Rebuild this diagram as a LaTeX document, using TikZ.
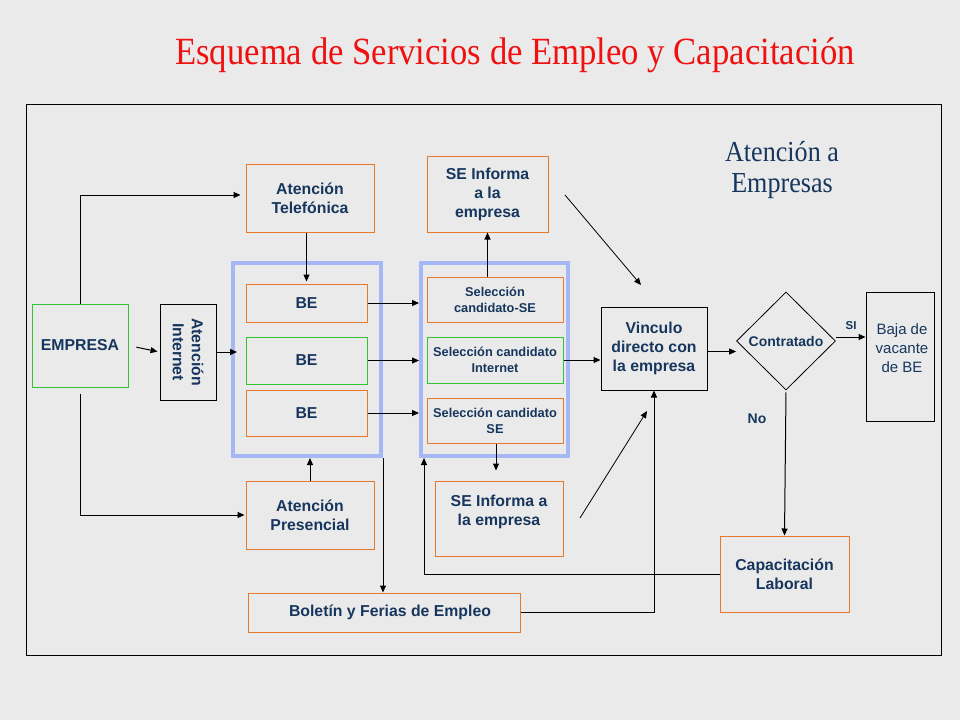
\documentclass[tikz,border=0pt]{standalone}
\usepackage{fontspec}
\setmainfont{Liberation Serif}
\setsansfont{Liberation Sans}
\newfontfamily\narrowserif[FakeStretch=0.9]{Liberation Serif}
\usetikzlibrary{arrows.meta,shapes.geometric}
\definecolor{navy}{HTML}{17365D}
\definecolor{boxorange}{HTML}{E8782A}
\definecolor{boxgreen}{HTML}{33C433}
\definecolor{frameblue}{HTML}{A5B7F6}
\definecolor{slidebg}{HTML}{EAEAEA}
\definecolor{titlered}{HTML}{F01010}

\begin{document}
\begin{tikzpicture}[x=1pt,y=-1pt,line width=1pt,>={Triangle[length=7pt,width=6pt]}]
\tikzstyle{every node}+=[inner sep=0pt,text=navy,align=center]
\tikzstyle{box}=[draw=boxorange,font=\sffamily\bfseries\fontsize{15.8}{19}\selectfont]
\tikzstyle{gbox}=[box,draw=boxgreen]
\tikzstyle{kbox}=[box,draw=black]
\tikzstyle{selbox}=[box,font=\sffamily\bfseries\fontsize{12.8}{16}\selectfont]
\tikzstyle{frame}=[draw=frameblue,line width=4pt]
\tikzstyle{lbl}=[font=\sffamily\bfseries\fontsize{14}{17}\selectfont]
\fill[slidebg] (0,0) rectangle (960,720);
\useasboundingbox (0,0) rectangle (960,720);
\draw (26,104) rectangle (941,655);
% titles
\node (title) at (515,55) [font=\narrowserif\fontsize{38.5}{42}\selectfont,text=titlered] {Esquema de Servicios de Empleo y Capacitación};
\node (empresas) at (782,170) [font=\narrowserif\fontsize{29}{31}\selectfont] {Atención a\\Empresas};
% containers
\node (fr1) at (307,359.5) [frame,minimum width=148,minimum height=193] {};
\node (fr2) at (494.5,359.5) [frame,minimum width=147,minimum height=193] {};
% left column
\node (emp) at (80,345.5) [gbox,minimum width=96,minimum height=83] {EMPRESA};
\node (inet) at (188,352) [kbox,rotate=-90,minimum width=96,minimum height=56] {Atención\\Internet};
\node (tel) at (310,198) [box,minimum width=128,minimum height=68] {Atención\\Telefónica};
\node (pres) at (310,515) [box,minimum width=128,minimum height=68] {Atención\\Presencial};
\node (be1) at (306.5,303) [box,minimum width=121,minimum height=38] {BE};
\node (be2) at (306.5,360.5) [gbox,minimum width=121,minimum height=47] {BE};
\node (be3) at (306.5,413) [box,minimum width=121,minimum height=46] {BE};
\node (bol) at (384,612.5) [box,minimum width=272,minimum height=39] {\hspace*{12pt}Boletín y Ferias de Empleo};
% middle column
\node (seTop) at (487.5,194) [box,minimum width=121,minimum height=76] {SE Informa\\a la\\empresa};
\node (selA) at (495,299.5) [selbox,minimum width=136,minimum height=45] {Selección\\candidato-SE};
\node (selB) at (495,360) [selbox,draw=boxgreen,minimum width=136,minimum height=46] {Selección candidato\\Internet};
\node (selC) at (495,420.5) [selbox,minimum width=136,minimum height=45] {Selección candidato\\SE};
\node (seBot) at (499,518.5) [box,minimum width=128,minimum height=75] {};
\node (seBotTxt) at (499,512) [box,draw=none] {SE Informa a\\la empresa};
% right part
\node (vin) at (654,348.5) [kbox,minimum width=106,minimum height=83] {Vinculo\\directo con\\la empresa};
\node (con) at (786,341) [diamond,draw=black,line width=0.8pt,minimum width=99,minimum height=98,font=\sffamily\bfseries\fontsize{14}{17}\selectfont] {\raisebox{-3pt}{Contratado}};
\node (baja) at (900,356.5) [draw=black,minimum width=68,minimum height=129] {};
\node (bajaTxt) at (902,348) [font=\sffamily\fontsize{15}{19}\selectfont] {Baja de\\vacante\\de BE};
\node (si) at (851,326) [font=\sffamily\bfseries\fontsize{11.5}{14}\selectfont] {SI};
\node (no) at (757,419) [lbl] {No};
\node (cap) at (784.5,574) [box,minimum width=129,minimum height=76] {Capacitación\\Laboral};
\coordinate (d1a) at (565,195);
\coordinate (d1b) at (641,285);
\coordinate (d2a) at (580,518);
\coordinate (d2b) at (647,411);
% connectors
\draw [->] (emp.north) |- ([xshift=-5pt,yshift=3pt]tel.west);
\draw [->,shorten <=6pt] (emp.south) |- ([xshift=-1pt]pres.west);
\draw [->,shorten <=8pt,shorten >=2pt] (emp.east) -- (inet.south);
\draw [->] (inet.north) -- ([xshift=6pt]inet.north -| fr1.west);
\draw [->,shorten >=2pt] (be1.north |- tel.south) -- (be1.north);
\draw [->] (pres.north) -- (pres.north |- fr1.south);
\draw [->] (be1.east) -- (be1.east -| fr2.west);
\draw [->] (be2.east) -- (be2.east -| fr2.west);
\draw [->] (be3.east) -- (be3.east -| fr2.west);
\draw [->] (seTop.south |- selA.north) -- (seTop.south);
\draw [->,shorten >=10pt] ([xshift=1pt]selC.south) -- ([xshift=1pt]selC.south |- seBot.north);
\draw [->] (selB.east) -- (selB.east -| vin.west);
\draw [->,line width=0.8pt] (d1a) -- (d1b);
\draw [->,line width=0.8pt] (d2a) -- (d2b);
\draw [->] ([yshift=-3pt]vin.east) -- ([yshift=-3pt]vin.east -| con.west);
\draw [->] ([yshift=4pt]con.east) -- ([yshift=4pt]con.east -| baja.west);
\draw [->,shorten <=2pt] (con.south) -- (cap.north);
\draw [->] (cap.west) -| ([xshift=5pt]fr2.south west);
\draw [->] (fr1.south east) -- (fr1.south east |- bol.north);
\draw [->] (bol.east) -| (vin.south);
\end{tikzpicture}
\end{document}
